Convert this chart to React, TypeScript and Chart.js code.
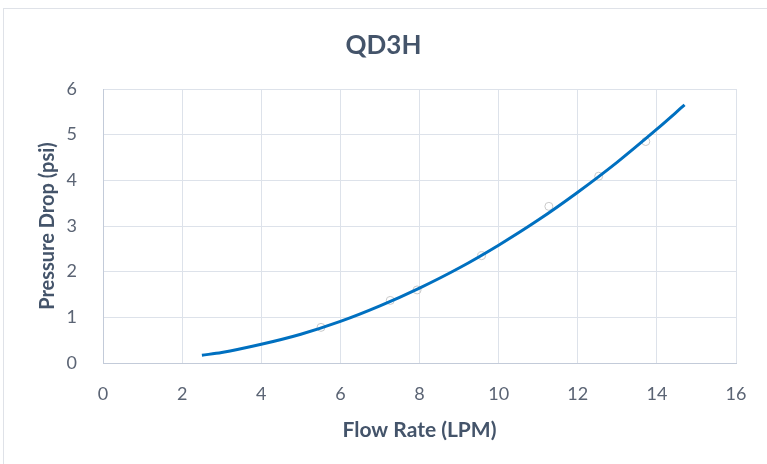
import React, { useEffect, useRef } from "react";
import { Chart, registerables } from "chart.js";

Chart.register(...registerables);

const chartTitle = "QD3H";
const xAxisTitle = "Flow Rate (LPM)";
const yAxisTitle = "Pressure Drop (psi)";

// measured points (faint circles)
const measuredFlow = [5.51, 7.26, 7.94, 9.57, 11.27, 12.53, 13.72];
const measuredPressure = [0.78, 1.37, 1.6, 2.35, 3.43, 4.09, 4.85];

// trendline
const trendFlow = [2.5, 3, 4, 5, 6, 7, 8, 9, 10, 11, 12, 13, 14, 14.7];
const trendPressure = [0.17, 0.23, 0.41, 0.63, 0.91, 1.25, 1.64, 2.08, 2.58, 3.13, 3.74, 4.4, 5.12, 5.65];

const xMin = 0;
const xMax = 16;
const xStep = 2;
const yMin = 0;
const yMax = 6;
const yStep = 1;

const FONT = "Lato, 'Open Sans', sans-serif";
const TITLE_COLOR = "#44546A";
const TICK_COLOR = "#5b6474";
const GRID_COLOR = "#dde2ea";
const AXIS_COLOR = "#c3cbd9";

export default function App() {
  const canvasRef = useRef<HTMLCanvasElement | null>(null);

  useEffect(() => {
    const canvas = canvasRef.current;
    if (!canvas) return;
    const chart = new Chart(canvas, {
      type: "scatter",
      data: {
        datasets: [
          {
            label: "Trend",
            data: trendFlow.map((x, i) => ({ x, y: trendPressure[i] })),
            showLine: true,
            borderColor: "#0070C0",
            borderWidth: 3,
            pointRadius: 0,
            cubicInterpolationMode: "monotone",
            fill: false,
          },
          {
            label: "Measured",
            data: measuredFlow.map((x, i) => ({ x, y: measuredPressure[i] })),
            showLine: false,
            pointRadius: 4,
            pointBorderWidth: 1,
            pointBorderColor: "#c9c9c9",
            pointBackgroundColor: "rgba(255,255,255,0)",
          },
        ],
      },
      options: {
        responsive: false,
        animation: false,
        devicePixelRatio: 1,
        layout: { padding: { left: 0, right: 0, top: 0, bottom: 0 } },
        plugins: {
          legend: { display: false },
          tooltip: { enabled: false },
          title: {
            display: true,
            text: chartTitle,
            color: TITLE_COLOR,
            font: { family: FONT, size: 26, weight: "bold", lineHeight: 1.2 },
            padding: { top: 30, bottom: 27.8 },
          },
        },
        scales: {
          x: {
            type: "linear",
            min: xMin,
            max: xMax,
            ticks: {
              stepSize: xStep,
              color: TICK_COLOR,
              font: { family: FONT, size: 18 },
              padding: 20,
              maxRotation: 0,
            },
            grid: { color: GRID_COLOR, drawTicks: false, lineWidth: 1 },
            border: { color: AXIS_COLOR, width: 1 },
            title: {
              display: true,
              text: xAxisTitle,
              color: TITLE_COLOR,
              font: { family: FONT, size: 21, weight: "bold", lineHeight: 1.2 },
              padding: { top: 0, bottom: 21.4 },
            },
            afterFit: (scale: any) => {
              scale.height = 101;
            },
          },
          y: {
            type: "linear",
            min: yMin,
            max: yMax,
            ticks: {
              stepSize: yStep,
              color: TICK_COLOR,
              font: { family: FONT, size: 18 },
              padding: 26,
            },
            grid: { color: GRID_COLOR, drawTicks: false, lineWidth: 1 },
            border: { color: AXIS_COLOR, width: 1 },
            title: {
              display: true,
              text: yAxisTitle,
              color: TITLE_COLOR,
              font: { family: FONT, size: 20, weight: "bold", lineHeight: 1.2 },
              padding: { top: 36, bottom: 0 },
            },
            afterFit: (scale: any) => {
              scale.width = 103;
            },
          },
          yRightSpacer: {
            type: "linear",
            position: "right",
            display: true,
            min: yMin,
            max: yMax,
            grid: { display: false, drawTicks: false },
            border: { display: false },
            ticks: { display: false },
            afterFit: (scale: any) => {
              scale.width = 31;
            },
          },
        },
      },
    });
    return () => chart.destroy();
  }, []);

  return (
    <div
      style={{
        position: "fixed",
        left: 0,
        top: 0,
        width: 767,
        height: 464,
        overflow: "hidden",
        background: "#ffffff",
      }}
    >
      <div
        style={{
          position: "absolute",
          left: 3,
          top: 8,
          width: 900,
          height: 600,
          border: "1px solid #dfe2e8",
          boxSizing: "border-box",
        }}
      />
      <canvas
        ref={canvasRef}
        width={767}
        height={464}
        style={{ position: "absolute", left: 0, top: 0, width: 767, height: 464 }}
      />
    </div>
  );
}
